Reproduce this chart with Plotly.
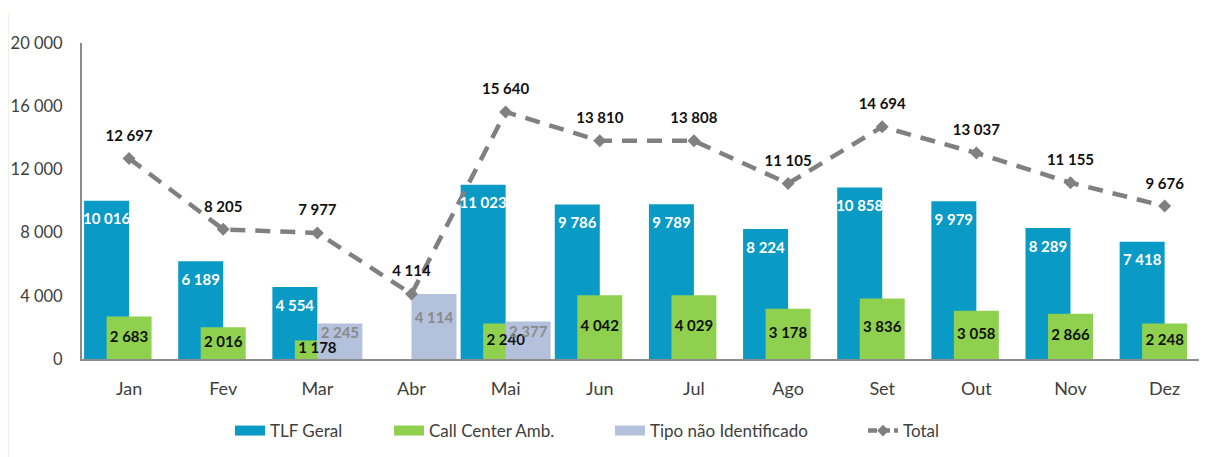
import plotly.graph_objects as go

months = ["Jan", "Fev", "Mar", "Abr", "Mai", "Jun", "Jul", "Ago", "Set", "Out", "Nov", "Dez"]
tlf_geral = [10016, 6189, 4554, None, 11023, 9786, 9789, 8224, 10858, 9979, 8289, 7418]
call_center = [2683, 2016, 1178, None, 2240, 4042, 4029, 3178, 3836, 3058, 2866, 2248]
tipo_nao_ident = [None, None, 2245, 4114, 2377, None, None, None, None, None, None, None]
total = [12697, 8205, 7977, 4114, 15640, 13810, 13808, 11105, 14694, 13037, 11155, 9676]
y_ticks = [0, 4000, 8000, 12000, 16000, 20000]

C_BLUE = "#0a9ac6"
C_GREEN = "#8fd14f"
C_GREY = "#b4c1dc"
C_LINE = "#808080"
FONT = "Lato"

BW = 0.478  # bar width in category units
FIG_W, FIG_H = 1199, 449


def fmt(v):
    return f"{v:,}".replace(",", " ")


x_idx = list(range(len(months)))

fig = go.Figure()

# Bars
fig.add_trace(go.Bar(x=x_idx, y=tlf_geral, width=BW, offset=-BW, marker_color=C_BLUE,
                     marker_line_width=0, name="TLF Geral", showlegend=False, hoverinfo="y"))
fig.add_trace(go.Bar(x=x_idx, y=call_center, width=BW, offset=-BW / 2, marker_color=C_GREEN,
                     marker_line_width=0, name="Call Center Amb.", showlegend=False, hoverinfo="y"))
fig.add_trace(go.Bar(x=x_idx, y=tipo_nao_ident, width=BW, offset=0, marker_color=C_GREY,
                     marker_line_width=0, name="Tipo não Identificado", showlegend=False, hoverinfo="y"))

# Total line
fig.add_trace(go.Scatter(x=x_idx, y=total, mode="lines+markers", name="Total",
                         line=dict(color=C_LINE, width=4.5, dash="15px,10px"),
                         marker=dict(symbol="diamond", size=10, color=C_LINE),
                         showlegend=False, hoverinfo="y"))


# Data labels
def text_trace(xs, ys, texts, color, size=15, bold=True):
    return go.Scatter(x=xs, y=ys, mode="text", text=texts, textposition="middle center",
                      textfont=dict(family=FONT, size=size, color=color,
                                    weight="bold" if bold else "normal"),
                      showlegend=False, hoverinfo="skip", cliponaxis=False)


bx, by, bt = [], [], []
for i, v in enumerate(tlf_geral):
    if v is not None:
        bx.append(i - BW / 2); by.append(v - 1250); bt.append(fmt(v))
fig.add_trace(text_trace(bx, by, bt, "white"))

gx, gy, gt = [], [], []
for i, v in enumerate(call_center):
    if v is not None:
        gx.append(i); gy.append(v / 2); gt.append(fmt(v))
fig.add_trace(text_trace(gx, gy, gt, "#111111"))

tx, ty, tt = [], [], []
for i, v in enumerate(tipo_nao_ident):
    if v is not None:
        tx.append(i + BW / 2); ty.append(v / 2 + 450); tt.append(fmt(v))
fig.add_trace(text_trace(tx, ty, tt, "#8a8a8a"))

lx, ly, lt = [], [], []
for i, v in enumerate(total):
    lx.append(i); ly.append(v + 1350); lt.append(fmt(v))
fig.add_trace(text_trace(lx, ly, lt, "#111111"))

# Legend entries, each in its own legend box so that spacing matches
legend_items = [("TLF Geral", C_BLUE, 222), ("Call Center Amb.", C_GREEN, 381),
                ("Tipo não Identificado", C_GREY, 602)]
legend_cfg = {}
for k, (name, col, px) in enumerate(legend_items):
    lg = "legend" if k == 0 else f"legend{k + 1}"
    fig.add_trace(go.Scatter(x=[None], y=[None], mode="lines", name=name, legend=lg,
                             line=dict(color=col, width=11), showlegend=True))
    legend_cfg[lg] = px
fig.add_trace(go.Scatter(x=[None], y=[None], mode="lines+markers", name="Total", legend="legend4",
                         line=dict(color=C_LINE, width=4.5, dash="9px,4px"),
                         marker=dict(symbol="diamond", size=9, color=C_LINE), showlegend=True))
legend_cfg["legend4"] = 855

leg_common = dict(orientation="h", xref="container", yref="container",
                  xanchor="left", yanchor="middle", y=(FIG_H - 423) / FIG_H,
                  font=dict(family=FONT, size=17, color="#404040"),
                  itemwidth=30, bgcolor="rgba(0,0,0,0)")
legends = {lg: dict(leg_common, x=px / FIG_W) for lg, px in legend_cfg.items()}

fig.update_layout(
    width=FIG_W, height=FIG_H,
    margin=dict(l=74, r=0, t=35, b=98),
    paper_bgcolor="white", plot_bgcolor="white",
    barmode="overlay",
    separators=", ",
    font=dict(family=FONT, size=16, color="#404040"),
    showlegend=True,
    xaxis=dict(range=[-0.5, 11.45], tickmode="array", tickvals=x_idx, ticktext=months,
               showgrid=False, zeroline=False, showline=True, linecolor="#8c8c8c",
               linewidth=2, ticks="", ticklabelstandoff=12,
               tickfont=dict(family=FONT, size=18, color="#404040")),
    yaxis=dict(range=[0, 20000], tickmode="array", tickvals=y_ticks,
               ticktext=[fmt(v) for v in y_ticks],
               showgrid=False, zeroline=False, showline=True, linecolor="#8c8c8c",
               linewidth=2, ticks="", ticklabelstandoff=14,
               tickfont=dict(family=FONT, size=16.5, color="#404040")),
    shapes=[dict(type="line", xref="paper", yref="paper",
                 x0=(0 - 74) / 1125, x1=(0 - 74) / 1125,
                 y0=(351 - 5) / 316, y1=(351 - 449) / 316,
                 line=dict(color="#e6f6e2", width=2))],
    **legends,
)

fig.write_html("out.html")
